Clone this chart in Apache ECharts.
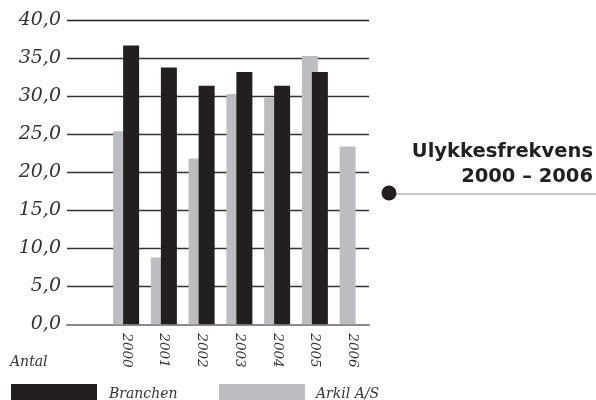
<!DOCTYPE html>
<html><head><meta charset="utf-8">
<script src="https://cdn.jsdelivr.net/npm/echarts@6/dist/echarts.min.js"></script>
<style>html,body{margin:0;padding:0;background:#fff}#c{width:596px;height:400px}</style>
</head><body><div id="c"></div>
<script>
const categories = ['', '2000', '2001', '2002', '2003', '2004', '2005', '2006'];
const branchen = [null, 36.7, 33.8, 31.4, 33.2, 31.4, 33.2, null];
const arkil = [null, 25.4, 8.8, 21.8, 30.3, 29.8, 35.3, 23.4];
const yTickLabels = ['0,0', '5,0', '10,0', '15,0', '20,0', '25,0', '30,0', '35,0', '40,0'];
const seriesNames = ['Branchen', 'Arkil A/S'];
const titleLines = ['Ulykkesfrekvens', '2000 – 2006'];
const axisName = 'Antal';

const BLACK = '#231f20', GRAY = '#bcbdc0';
const serif = 'DejaVu Serif';
const chart = echarts.init(document.getElementById('c'), null, {renderer: 'canvas'});
chart.setOption({
  animation: false,
  title: [
    {text: titleLines.join('\n'), right: 'right', top: 136, padding: 3,
     textStyle: {fontFamily: 'DejaVu Sans', fontWeight: 'bold', fontSize: 19.5, lineHeight: 25, color: BLACK}},
    {text: axisName, left: 10, top: 355, padding: 0,
     textStyle: {fontFamily: serif, fontStyle: 'italic', fontWeight: 'normal', fontSize: 14, color: '#333'}}
  ],
  grid: [
    {left: 67, right: 227, top: 20.3, bottom: 75.7},
    {left: 69.5, width: 302, top: 20.3, bottom: 75.7}
  ],
  xAxis: [
    {type: 'category', gridIndex: 0, data: categories,
     axisLine: {show: true, lineStyle: {color: '#8a8a8a', width: 2}},
     axisTick: {show: false}, axisLabel: {show: false}, splitLine: {show: false}},
    {type: 'category', gridIndex: 1, data: categories,
     axisLine: {show: false}, axisTick: {show: false}, splitLine: {show: false},
     axisLabel: {rotate: -90, margin: 9, fontFamily: serif, fontStyle: 'italic', fontSize: 13.5, color: '#333'}}
  ],
  yAxis: [
    {type: 'value', gridIndex: 0, min: 0, max: 40, interval: 5,
     axisLine: {show: false}, axisTick: {show: false},
     axisLabel: {margin: 6, fontFamily: serif, fontStyle: 'italic', fontSize: 19, color: '#333',
       formatter: v => yTickLabels[Math.round(v / 5)]},
     splitLine: {show: true, lineStyle: {color: ['transparent', '#333', '#333', '#333', '#333', '#333', '#333', '#333', '#222'], width: 1.3}}},
    {type: 'value', gridIndex: 1, min: 0, max: 40, interval: 5, show: false, splitLine: {show: false}}
  ],
  legend: [
    {data: [{name: seriesNames[0], icon: 'rect'}], left: 11, top: 384, padding: 0, itemWidth: 86, itemHeight: 20,
     textStyle: {fontFamily: serif, fontStyle: 'italic', fontSize: 14, color: '#333', padding: [0, 0, 0, 7]}},
    {data: [{name: seriesNames[1], icon: 'rect'}], left: 219, top: 384, padding: 0, itemWidth: 86, itemHeight: 20,
     textStyle: {fontFamily: serif, fontStyle: 'italic', fontSize: 14, color: '#333', padding: [0, 0, 0, 6]}}
  ],
  graphic: [
    {type: 'line', shape: {x1: 389, y1: 194, x2: 596, y2: 194}, style: {stroke: '#c8c8c8', lineWidth: 2}},
    {type: 'circle', shape: {cx: 389, cy: 193, r: 7.5}, style: {fill: BLACK}}
  ],
  series: [
    {name: seriesNames[1], type: 'bar', xAxisIndex: 1, yAxisIndex: 1, data: arkil,
     barWidth: 16, barGap: '-37.5%', itemStyle: {color: GRAY}, z: 2},
    {name: seriesNames[0], type: 'bar', xAxisIndex: 1, yAxisIndex: 1, data: branchen,
     barWidth: 16, barGap: '-37.5%', itemStyle: {color: BLACK}, z: 3}
  ]
});
</script></body></html>
